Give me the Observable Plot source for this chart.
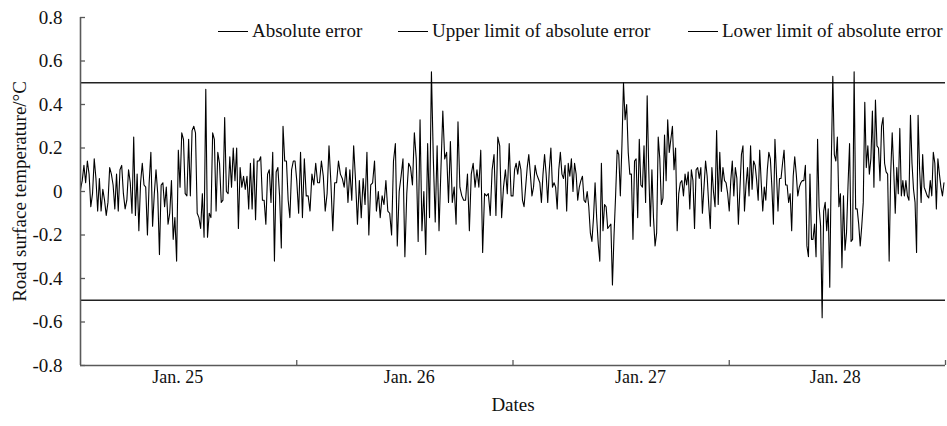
<!DOCTYPE html>
<html><head><meta charset="utf-8">
<script src="https://cdn.jsdelivr.net/npm/d3@7"></script>
<script src="https://cdn.jsdelivr.net/npm/@observablehq/plot@0.6"></script>
<style>
body{margin:0;background:#fff;}
#wrap{position:relative;width:947px;height:426px;font-family:"Liberation Serif","Times New Roman",serif;}
#legend{position:absolute;top:21px;left:0;width:947px;height:20px;font-size:19px;color:#111;}
.item{position:absolute;top:0;height:20px;display:flex;align-items:center;white-space:nowrap;}
.sw{display:inline-block;width:30px;height:0;border-top:1.3px solid #000;margin-right:4px;}
svg text{font-family:"Liberation Serif","Times New Roman",serif;}
</style></head><body>
<div id="wrap"><div id="legend"></div></div>
<script>
const dayLabels = ["Jan. 25", "Jan. 26", "Jan. 27", "Jan. 28"];
const dayLabelPos = [0.45, 1.52, 2.59, 3.49];
const dayBoundaries = [1, 2, 3, 4];
const yTicks = [-0.8, -0.6, -0.4, -0.2, 0, 0.2, 0.4, 0.6, 0.8];
const upperLimit = 0.5;
const lowerLimit = -0.5;
const legendLabels = ["Absolute error", "Upper limit of absolute error", "Lower limit of absolute error"];
const xTitle = "Dates";
const yTitle = "Road surface temperature/°C";

const errJan25 = [0.01,0.05,0.12,0.04,0.14,0.08,-0.07,-0.01,0.15,0.06,-0.09,0.06,-0.09,0.01,-0.04,-0.11,-0.05,0.11,0.08,0.03,-0.08,0.08,-0.09,0.10,0.12,-0.01,-0.08,-0.04,0.10,0.04,-0.10,0.25,-0.11,0.08,-0.18,0.04,0.13,0.03,0.02,-0.20,0.04,0.18,-0.16,-0.01,0.10,-0.01,-0.29,0.03,0.04,-0.07,0.02,-0.15,-0.10,0.05,-0.22,-0.12,-0.32,0.19,0.02,0.27,0.24,
-0.01,-0.02,0.24,-0.02,0.28,0.30,0.27,-0.10,-0.12,-0.17,-0.01,-0.21,0.47,-0.21,-0.10,-0.12,0.27,0.24,-0.09,0.18,0.13,-0.05,-0.04,0.34,0.00,-0.01,0.16,0.02,0.20,0.05,0.20,-0.17,0.11,0.02,0.07,0.01,0.07,-0.08,0.13,-0.08,0.15,-0.13,0.14,0.14,0.16,-0.04,-0.04,-0.15,0.08,0.10,-0.05,0.18,-0.32,0.09,0.11,-0.02,-0.26,0.30,0.14,0.14,-0.04,-0.12,0.10,0.14,0.14];

const errJan26 = [0.05,-0.10,0.18,-0.12,0.15,-0.02,-0.02,-0.09,0.08,0.03,0.13,0.04,0.04,0.14,0.07,-0.09,-0.01,0.21,0.04,-0.18,0.04,0.04,0.14,0.08,0.06,0.02,0.11,-0.05,0.10,-0.04,0.21,0.05,-0.15,0.05,-0.12,0.06,-0.06,0.18,-0.20,0.03,0.04,0.14,-0.09,0.00,-0.12,-0.02,-0.06,0.05,-0.09,-0.10,-0.20,0.14,0.22,-0.25,0.00,0.07,0.15,-0.30,-0.01,
0.13,0.11,0.03,0.27,0.15,-0.23,0.33,-0.18,0.00,-0.29,0.22,-0.12,0.55,0.15,-0.14,0.21,-0.18,0.10,0.37,0.15,0.18,-0.05,0.23,-0.05,0.02,-0.15,0.32,0.02,-0.02,-0.04,-0.04,0.08,-0.18,0.08,0.13,0.02,0.10,0.02,0.19,-0.28,-0.01,-0.02,-0.01,-0.11,0.10,0.17,-0.11,0.25,0.21,-0.12,0.02,0.10,-0.01,0.22,-0.02];

const errJan27 = [-0.02,0.10,0.13,0.08,0.14,0.10,-0.04,-0.07,0.02,0.11,0.17,0.08,-0.02,0.02,0.12,0.08,0.06,0.04,-0.05,0.08,0.17,0.08,-0.05,0.10,0.20,0.02,0.04,0.02,-0.08,0.10,0.18,0.08,0.06,0.12,-0.09,0.13,0.07,0.15,0.00,0.13,0.08,-0.04,0.02,0.05,0.07,-0.04,-0.05,0.00,-0.07,-0.19,-0.23,-0.12,0.04,-0.12,-0.24,-0.32,0.13,-0.18,-0.06,-0.07,-0.17,-0.16,-0.15,-0.43,-0.20,-0.02,0.19,0.17,-0.02,0.21,0.50,0.33,0.40,0.18,0.08,
0.08,-0.22,0.14,0.15,-0.12,0.24,0.03,0.02,0.21,-0.05,0.44,0.10,-0.16,0.10,-0.12,-0.25,-0.19,0.25,0.15,-0.06,-0.03,0.26,0.05,0.33,0.18,0.24,0.30,0.10,0.20,-0.18,-0.01,0.04,0.05,-0.02,0.08,0.03,0.09,-0.08,0.10,0.05,-0.17,0.10,0.11,0.06,0.11,-0.10,0.02,0.14,0.07,-0.06,-0.17,0.11,0.00,-0.07,0.28,-0.06,0.18,0.00,0.11,0.05,0.04,-0.01];

const errJan28 = [-0.09,0.05,0.14,-0.02,0.11,0.06,
-0.15,0.01,0.17,0.21,-0.09,0.03,0.11,-0.02,0.21,0.01,0.14,0.12,0.05,-0.04,0.19,0.04,-0.09,0.02,-0.04,0.10,0.18,0.15,0.02,-0.15,0.24,0.08,-0.09,0.06,0.06,0.13,0.19,0.03,0.03,-0.05,-0.01,-0.18,0.07,0.16,0.08,-0.02,0.02,0.04,0.05,0.05,0.12,-0.25,-0.30,0.08,-0.22,-0.22,-0.15,-0.30,0.24,-0.07,-0.16,-0.58,-0.09,-0.05,-0.18,-0.08,-0.44,0.13,0.53,0.17,0.14,0.25,-0.07,-0.01,-0.35,-0.02,-0.27,-0.19,
0.03,0.22,-0.23,-0.22,0.55,-0.08,-0.08,-0.15,-0.25,-0.16,-0.05,0.41,0.11,0.21,0.08,0.15,0.37,0.02,0.42,0.21,0.20,0.05,0.30,0.34,0.13,0.09,0.08,-0.32,0.08,0.27,0.10,-0.10,0.11,-0.01,0.29,-0.02,0.05,-0.02,0.05,-0.02,-0.04,0.35,0.13,0.01,-0.05,-0.28,0.35,0.10,-0.05,0.17,0.02,0.00,-0.02,-0.03,0.05,-0.02,0.18,0.13,-0.08,0.15,0.08,0.02,-0.02,0.04];

const series = [errJan25, errJan26, errJan27, errJan28];
const data = series.flatMap((arr, d) => arr.map((v, i) => ({t: d + i / arr.length, v})));

const axisColor = "#595959";
const serif = '"Liberation Serif","Times New Roman",serif';
const fmtY = d => d === 0 ? "0" : d.toFixed(1);

const chart = Plot.plot({
  width: 947,
  height: 426,
  marginLeft: 80,
  marginRight: 2,
  marginTop: 17,
  marginBottom: 61,
  x: {domain: [0, 4]},
  y: {domain: [-0.8, 0.8]},
  style: {fontFamily: serif, fontSize: "19px", color: "#111", background: "#fff", overflow: "visible"},
  marks: [
    Plot.ruleY([upperLimit, lowerLimit], {stroke: "#222", strokeWidth: 1.5}),
    Plot.line(data, {x: "t", y: "v", stroke: "#000", strokeWidth: 1.1}),
    Plot.axisY(yTicks, {tickSize: -5, tickPadding: 23, tickFormat: fmtY, stroke: axisColor, strokeWidth: 1.3, label: null, fontSize: 19, fontFamily: serif}),
    Plot.axisX(dayBoundaries, {tickSize: -5, tickFormat: () => "", stroke: axisColor, strokeWidth: 1.3, label: null}),
    Plot.axisX(dayLabelPos, {tickSize: 0, tickPadding: 5, tickFormat: d => dayLabels[dayLabelPos.indexOf(d)], label: null, fontSize: 18, fontFamily: serif}),
    Plot.ruleX([0], {stroke: axisColor, strokeWidth: 1.6}),
    Plot.ruleY([-0.8], {stroke: axisColor, strokeWidth: 1.6}),
    Plot.text([xTitle], {frameAnchor: "bottom", dy: 45, fontSize: 19, fontFamily: serif, fill: "#111"}),
    Plot.text([yTitle], {frameAnchor: "left", textAnchor: "middle", dx: -61, rotate: -90, fontSize: 19, fontFamily: serif, fill: "#111"})
  ]
});
document.getElementById("wrap").appendChild(chart);
chart.style.position = "absolute";
chart.style.left = "0";
chart.style.top = "0";

const legendX = [218, 398, 688];
const legend = document.getElementById("legend");
legend.style.zIndex = "2";
legendLabels.forEach((lab, i) => {
  const it = document.createElement("div");
  it.className = "item";
  it.style.left = legendX[i] + "px";
  it.innerHTML = '<span class="sw"></span><span></span>';
  it.lastChild.textContent = lab;
  legend.appendChild(it);
});
</script>
</body></html>
